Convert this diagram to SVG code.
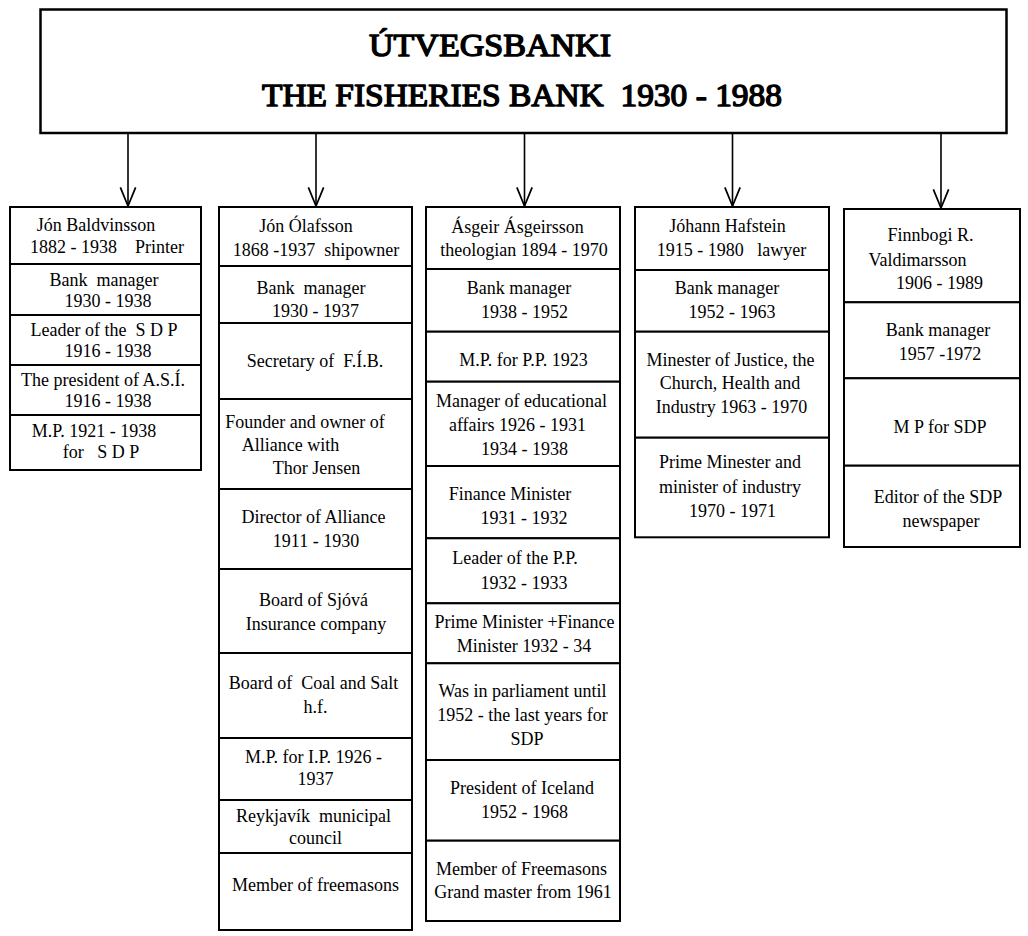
<svg xmlns="http://www.w3.org/2000/svg" width="1028" height="936" viewBox="0 0 1028 936">
<style>
.cell{fill:#fff;stroke:#000;stroke-width:2}
.title{fill:#fff;stroke:#000;stroke-width:2.5}
.t{font-family:"Liberation Serif","Times New Roman",serif;font-size:18px;text-anchor:middle;white-space:pre;fill:#000}
.h{font-family:"Liberation Serif","Times New Roman",serif;font-size:32px;font-weight:normal;white-space:pre;fill:#000;stroke:#000;stroke-width:1.4;stroke-linejoin:round}
.conn{stroke:#000;stroke-width:1.6;fill:none}
</style>
<defs>
<marker id="arr" markerUnits="userSpaceOnUse" markerWidth="24" markerHeight="24" viewBox="-20 -10 22 20" refX="0" refY="0" orient="auto" overflow="visible">
<path d="M-17,-7 L0,0 L-17,7" fill="none" stroke="#000" stroke-width="1.6"/>
</marker>
</defs>
<rect width="1028" height="936" fill="#fff"/>
<g id="title">
<rect class="title" x="40.5" y="9.5" width="966" height="123.5"/>
<text class="h" x="369" y="56" textLength="242" lengthAdjust="spacingAndGlyphs">ÚTVEGSBANKI</text>
<text class="h" x="262" y="106" textLength="520" lengthAdjust="spacingAndGlyphs">THE FISHERIES BANK  1930 - 1988</text>
</g>
<g id="connectors">
<line class="conn" x1="128" y1="133" x2="128" y2="206" marker-end="url(#arr)"/>
<line class="conn" x1="316" y1="133" x2="316" y2="206" marker-end="url(#arr)"/>
<line class="conn" x1="524.5" y1="133" x2="524.5" y2="206" marker-end="url(#arr)"/>
<line class="conn" x1="732.5" y1="133" x2="732.5" y2="206" marker-end="url(#arr)"/>
<line class="conn" x1="941" y1="133" x2="941" y2="208" marker-end="url(#arr)"/>
</g>
<g id="col1">
<rect class="cell" x="10" y="207" width="191" height="57"/>
<rect class="cell" x="10" y="264" width="191" height="51"/>
<rect class="cell" x="10" y="315" width="191" height="50"/>
<rect class="cell" x="10" y="365" width="191" height="50"/>
<rect class="cell" x="10" y="415" width="191" height="55"/>
<text class="t" x="96" y="231">Jón Baldvinsson</text>
<text class="t" x="107" y="253">1882 - 1938    Printer</text>
<text class="t" x="104" y="286">Bank  manager</text>
<text class="t" x="108" y="307">1930 - 1938</text>
<text class="t" x="104" y="336">Leader of the  S D P</text>
<text class="t" x="108" y="357">1916 - 1938</text>
<text class="t" x="103" y="386">The president of A.S.Í.</text>
<text class="t" x="108" y="407">1916 - 1938</text>
<text class="t" x="94" y="437">M.P. 1921 - 1938</text>
<text class="t" x="101" y="458">for   S D P</text>
</g>
<g id="col2">
<rect class="cell" x="219" y="207" width="193" height="59"/>
<rect class="cell" x="219" y="266" width="193" height="57"/>
<rect class="cell" x="219" y="323" width="193" height="76"/>
<rect class="cell" x="219" y="399" width="193" height="90"/>
<rect class="cell" x="219" y="489" width="193" height="80"/>
<rect class="cell" x="219" y="569" width="193" height="84"/>
<rect class="cell" x="219" y="653" width="193" height="85"/>
<rect class="cell" x="219" y="738" width="193" height="62"/>
<rect class="cell" x="219" y="800" width="193" height="53"/>
<rect class="cell" x="219" y="853" width="193" height="77"/>
<text class="t" x="306" y="232">Jón Ólafsson</text>
<text class="t" x="316" y="256">1868 -1937  shipowner</text>
<text class="t" x="311" y="294">Bank  manager</text>
<text class="t" x="315.5" y="317">1930 - 1937</text>
<text class="t" x="315" y="367">Secretary of  F.Í.B.</text>
<text class="t" x="305" y="428">Founder and owner of</text>
<text class="t" x="290.5" y="451">Alliance with</text>
<text class="t" x="316.5" y="474">Thor Jensen</text>
<text class="t" x="313.5" y="523">Director of Alliance</text>
<text class="t" x="316" y="547">1911 - 1930</text>
<text class="t" x="313.5" y="606">Board of Sjóvá</text>
<text class="t" x="316" y="630">Insurance company</text>
<text class="t" x="313.5" y="689">Board of  Coal and Salt</text>
<text class="t" x="315.5" y="713">h.f.</text>
<text class="t" x="313.5" y="763">M.P. for I.P. 1926 -</text>
<text class="t" x="315.5" y="785">1937</text>
<text class="t" x="313.5" y="822">Reykjavík  municipal</text>
<text class="t" x="315.5" y="844">council</text>
<text class="t" x="315.5" y="891">Member of freemasons</text>
</g>
<g id="col3">
<rect class="cell" x="426" y="207" width="194" height="62"/>
<rect class="cell" x="426" y="269" width="194" height="62.7"/>
<rect class="cell" x="426" y="331.7" width="194" height="50"/>
<rect class="cell" x="426" y="381.7" width="194" height="84.3"/>
<rect class="cell" x="426" y="466" width="194" height="72.3"/>
<rect class="cell" x="426" y="538.3" width="194" height="65"/>
<rect class="cell" x="426" y="603.3" width="194" height="60"/>
<rect class="cell" x="426" y="663.3" width="194" height="96.7"/>
<rect class="cell" x="426" y="760" width="194" height="80.7"/>
<rect class="cell" x="426" y="840.7" width="194" height="80.3"/>
<text class="t" x="517.5" y="233">Ásgeir Ásgeirsson</text>
<text class="t" x="524" y="256">theologian 1894 - 1970</text>
<text class="t" x="519" y="294">Bank manager</text>
<text class="t" x="524.5" y="318">1938 - 1952</text>
<text class="t" x="523.5" y="366">M.P. for P.P. 1923</text>
<text class="t" x="521.5" y="407">Manager of educational</text>
<text class="t" x="517.5" y="431">affairs 1926 - 1931</text>
<text class="t" x="524.5" y="455">1934 - 1938</text>
<text class="t" x="510" y="500">Finance Minister</text>
<text class="t" x="524" y="524">1931 - 1932</text>
<text class="t" x="515" y="564">Leader of the P.P.</text>
<text class="t" x="524" y="589">1932 - 1933</text>
<text class="t" x="524.5" y="628">Prime Minister +Finance</text>
<text class="t" x="524" y="652">Minister 1932 - 34</text>
<text class="t" x="522.5" y="697">Was in parliament until</text>
<text class="t" x="522.5" y="721">1952 - the last years for</text>
<text class="t" x="527" y="745">SDP</text>
<text class="t" x="522" y="794">President of Iceland</text>
<text class="t" x="524.5" y="818">1952 - 1968</text>
<text class="t" x="521.5" y="875">Member of Freemasons</text>
<text class="t" x="523" y="898">Grand master from 1961</text>
</g>
<g id="col4">
<rect class="cell" x="635" y="207" width="194" height="63"/>
<rect class="cell" x="635" y="270" width="194" height="61.7"/>
<rect class="cell" x="635" y="331.7" width="194" height="106"/>
<rect class="cell" x="635" y="437.7" width="194" height="99.6"/>
<text class="t" x="727.5" y="232">Jóhann Hafstein</text>
<text class="t" x="731.5" y="256">1915 - 1980   lawyer</text>
<text class="t" x="727" y="294">Bank manager</text>
<text class="t" x="732" y="318">1952 - 1963</text>
<text class="t" x="730.5" y="366">Minester of Justice, the</text>
<text class="t" x="730" y="389">Church, Health and</text>
<text class="t" x="731.5" y="413">Industry 1963 - 1970</text>
<text class="t" x="730" y="468">Prime Minester and</text>
<text class="t" x="730" y="493">minister of industry</text>
<text class="t" x="732.5" y="517">1970 - 1971</text>
</g>
<g id="col5">
<rect class="cell" x="844" y="209" width="176" height="93.3"/>
<rect class="cell" x="844" y="302.3" width="176" height="76"/>
<rect class="cell" x="844" y="378.3" width="176" height="87.4"/>
<rect class="cell" x="844" y="465.7" width="176" height="81.3"/>
<text class="t" x="930.5" y="241">Finnbogi R.</text>
<text class="t" x="917.5" y="266">Valdimarsson</text>
<text class="t" x="939.5" y="289">1906 - 1989</text>
<text class="t" x="938" y="336">Bank manager</text>
<text class="t" x="940" y="360">1957 -1972</text>
<text class="t" x="940" y="433">M P for SDP</text>
<text class="t" x="938" y="503">Editor of the SDP</text>
<text class="t" x="941" y="527">newspaper</text>
</g>
</svg>
